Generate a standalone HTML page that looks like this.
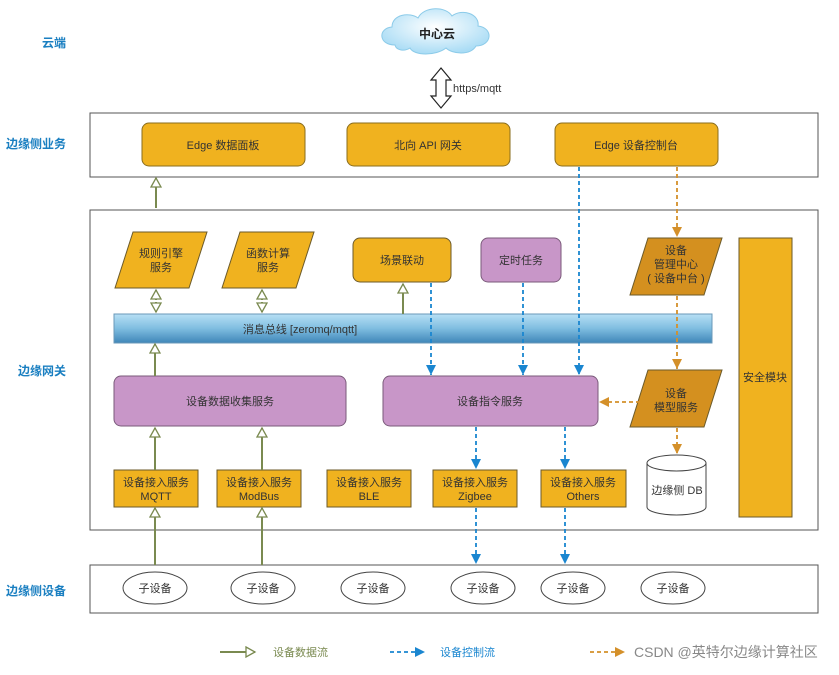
<!DOCTYPE html>
<html><head><meta charset="utf-8"><style>
body{margin:0;background:#fff}
text{font-family:"Liberation Sans","Noto Sans CJK SC",sans-serif;font-size:11px;fill:#333}
.l{fill:#1a7fc1;font-weight:bold;font-size:12px}
</style></head><body>
<svg width="839" height="670" xmlns="http://www.w3.org/2000/svg">
<defs>
<linearGradient id="bus" x1="0" y1="0" x2="0" y2="1"><stop offset="0" stop-color="#b8e0f5"/><stop offset="0.5" stop-color="#7fbde0"/><stop offset="1" stop-color="#3f86b8"/></linearGradient>
<radialGradient id="cl" cx="0.5" cy="0.4" r="0.6"><stop offset="0" stop-color="#fff"/><stop offset="1" stop-color="#a9dcf5"/></radialGradient>
<marker id="g" markerWidth="12" markerHeight="12" refX="10" refY="6" orient="auto" markerUnits="userSpaceOnUse"><path d="M1,1 L10,6 L1,11 Z" fill="#fff" stroke="#7a8a50" stroke-width="1.3"/></marker>
<marker id="b" markerWidth="12" markerHeight="12" refX="10" refY="6" orient="auto" markerUnits="userSpaceOnUse"><path d="M0,1 L10,6 L0,11 Z" fill="#1a86d0"/></marker>
<marker id="o" markerWidth="12" markerHeight="12" refX="10" refY="6" orient="auto" markerUnits="userSpaceOnUse"><path d="M0,1 L10,6 L0,11 Z" fill="#d4902a"/></marker>
</defs>
<text class="l" x="42" y="47">云端</text>
<text class="l" x="6" y="148">边缘侧业务</text>
<text class="l" x="18" y="375">边缘网关</text>
<text class="l" x="6" y="595">边缘侧设备</text>
<!-- cloud -->
<path d="M395,45 C378,45 378,28 392,27 C392,14 410,12 418,18 C424,6 446,6 452,16 C462,8 480,14 478,26 C494,28 492,46 476,46 C470,56 452,54 446,48 C436,56 414,56 410,48 C404,52 396,50 395,45 Z" fill="url(#cl)" stroke="#8ccbe9"/>
<text x="437" y="38" text-anchor="middle" style="font-weight:bold;font-size:12px;fill:#222">中心云</text>
<!-- double arrow -->
<path d="M441,68 L451,80 L446,80 L446,96 L451,96 L441,108 L431,96 L436,96 L436,80 L431,80 Z" fill="#fff" stroke="#222" stroke-width="1.2"/>
<text x="453" y="92">https/mqtt</text>
<!-- edge biz box -->
<rect x="90" y="113" width="728" height="64" fill="#fff" stroke="#555"/>
<g fill="#f0b21f" stroke="#8a6d1e">
<rect x="142" y="123" width="163" height="43" rx="7"/>
<rect x="347" y="123" width="163" height="43" rx="7"/>
<rect x="555" y="123" width="163" height="43" rx="7"/>
</g>
<text x="223" y="149" text-anchor="middle">Edge 数据面板</text>
<text x="428" y="149" text-anchor="middle">北向 API 网关</text>
<text x="636" y="149" text-anchor="middle">Edge 设备控制台</text>
<!-- gateway -->
<rect x="90" y="210" width="728" height="320" fill="#fff" stroke="#555"/>
<g stroke="#6b5a2a">
<path d="M133,232 L207,232 L189,288 L115,288 Z" fill="#f0b21f"/>
<path d="M240,232 L314,232 L296,288 L222,288 Z" fill="#f0b21f"/>
<rect x="353" y="238" width="98" height="44" rx="7" fill="#f0b21f"/>
<rect x="481" y="238" width="80" height="44" rx="7" fill="#c896c8" stroke="#7a5a7a"/>
<path d="M648,238 L722,238 L704,295 L630,295 Z" fill="#d4901f"/>
<path d="M648,370 L722,370 L704,427 L630,427 Z" fill="#d4901f"/>
<rect x="739" y="238" width="53" height="279" fill="#f0b21f"/>
</g>
<text x="161" y="257" text-anchor="middle">规则引擎</text><text x="161" y="271" text-anchor="middle">服务</text>
<text x="268" y="257" text-anchor="middle">函数计算</text><text x="268" y="271" text-anchor="middle">服务</text>
<text x="402" y="264" text-anchor="middle">场景联动</text>
<text x="521" y="264" text-anchor="middle">定时任务</text>
<text x="676" y="254" text-anchor="middle">设备</text><text x="676" y="268" text-anchor="middle">管理中心</text><text x="676" y="282" text-anchor="middle">( 设备中台 )</text>
<text x="676" y="397" text-anchor="middle">设备</text><text x="676" y="411" text-anchor="middle">模型服务</text>
<text x="765" y="381" text-anchor="middle">安全模块</text>
<rect x="114" y="314" width="598" height="29" fill="url(#bus)" stroke="#6a98b8"/>
<text x="300" y="333" text-anchor="middle">消息总线 [zeromq/mqtt]</text>
<rect x="114" y="376" width="232" height="50" rx="7" fill="#c896c8" stroke="#7a5a7a"/>
<rect x="383" y="376" width="215" height="50" rx="7" fill="#c896c8" stroke="#7a5a7a"/>
<text x="230" y="405" text-anchor="middle">设备数据收集服务</text>
<text x="490" y="405" text-anchor="middle">设备指令服务</text>
<!-- DB -->
<path d="M647,463 L647,507 A29.5,8 0 0 0 706,507 L706,463" fill="#fff" stroke="#444"/>
<ellipse cx="676.5" cy="463" rx="29.5" ry="8" fill="#fff" stroke="#444"/>
<text x="677" y="494" text-anchor="middle">边缘侧 DB</text>
<!-- access -->
<g fill="#f0b21f" stroke="#6b5a2a">
<rect x="114" y="470" width="84" height="37"/><rect x="217" y="470" width="84" height="37"/>
<rect x="327" y="470" width="84" height="37"/><rect x="433" y="470" width="84" height="37"/>
<rect x="541" y="470" width="85" height="37"/>
</g>
<g text-anchor="middle">
<text x="156" y="486">设备接入服务</text><text x="156" y="500">MQTT</text>
<text x="259" y="486">设备接入服务</text><text x="259" y="500">ModBus</text>
<text x="369" y="486">设备接入服务</text><text x="369" y="500">BLE</text>
<text x="475" y="486">设备接入服务</text><text x="475" y="500">Zigbee</text>
<text x="583" y="486">设备接入服务</text><text x="583" y="500">Others</text>
</g>
<!-- devices -->
<rect x="90" y="565" width="728" height="48" fill="#fff" stroke="#555"/>
<g fill="#fff" stroke="#444">
<ellipse cx="155" cy="588" rx="32" ry="16"/><ellipse cx="263" cy="588" rx="32" ry="16"/>
<ellipse cx="373" cy="588" rx="32" ry="16"/><ellipse cx="483" cy="588" rx="32" ry="16"/>
<ellipse cx="573" cy="588" rx="32" ry="16"/><ellipse cx="673" cy="588" rx="32" ry="16"/>
</g>
<g text-anchor="middle">
<text x="155" y="592">子设备</text><text x="263" y="592">子设备</text><text x="373" y="592">子设备</text>
<text x="483" y="592">子设备</text><text x="573" y="592">子设备</text><text x="673" y="592">子设备</text>
</g>
<!-- green arrows -->
<g stroke="#7a8a50" stroke-width="2" fill="none">
<line x1="156" y1="208" x2="156" y2="178" marker-end="url(#g)"/>
<line x1="156" y1="300" x2="156" y2="290" marker-end="url(#g)"/><line x1="156" y1="302" x2="156" y2="312" marker-end="url(#g)"/>
<line x1="262" y1="300" x2="262" y2="290" marker-end="url(#g)"/><line x1="262" y1="302" x2="262" y2="312" marker-end="url(#g)"/>
<line x1="403" y1="314" x2="403" y2="284" marker-end="url(#g)"/>
<line x1="155" y1="376" x2="155" y2="344" marker-end="url(#g)"/>
<line x1="155" y1="470" x2="155" y2="428" marker-end="url(#g)"/>
<line x1="262" y1="470" x2="262" y2="428" marker-end="url(#g)"/>
<line x1="155" y1="565" x2="155" y2="508" marker-end="url(#g)"/>
<line x1="262" y1="565" x2="262" y2="508" marker-end="url(#g)"/>
</g>
<g stroke="#1a86d0" stroke-width="1.8" stroke-dasharray="4,3" fill="none">
<line x1="431" y1="283" x2="431" y2="375" marker-end="url(#b)"/>
<line x1="523" y1="283" x2="523" y2="375" marker-end="url(#b)"/>
<line x1="579" y1="167" x2="579" y2="375" marker-end="url(#b)"/>
<line x1="476" y1="427" x2="476" y2="469" marker-end="url(#b)"/>
<line x1="565" y1="427" x2="565" y2="469" marker-end="url(#b)"/>
<line x1="476" y1="508" x2="476" y2="564" marker-end="url(#b)"/>
<line x1="565" y1="508" x2="565" y2="564" marker-end="url(#b)"/>
</g>
<g stroke="#d4902a" stroke-width="1.8" stroke-dasharray="4,3" fill="none">
<line x1="677" y1="167" x2="677" y2="237" marker-end="url(#o)"/>
<line x1="677" y1="296" x2="677" y2="369" marker-end="url(#o)"/>
<line x1="677" y1="428" x2="677" y2="454" marker-end="url(#o)"/>
<line x1="640" y1="402" x2="599" y2="402" marker-end="url(#o)"/>
</g>
<!-- legend -->
<line x1="220" y1="652" x2="255" y2="652" stroke="#7a8a50" stroke-width="2" marker-end="url(#g)"/>
<text x="273" y="656" style="fill:#7a8a50">设备数据流</text>
<line x1="390" y1="652" x2="425" y2="652" stroke="#1a86d0" stroke-width="1.8" stroke-dasharray="4,3" marker-end="url(#b)"/>
<text x="440" y="656" style="fill:#1a86d0">设备控制流</text>
<line x1="590" y1="652" x2="625" y2="652" stroke="#d4902a" stroke-width="1.8" stroke-dasharray="4,3" marker-end="url(#o)"/>
<text x="634" y="657" style="fill:#888;font-size:14px">CSDN @英特尔边缘计算社区</text>
</svg>
</body></html>
